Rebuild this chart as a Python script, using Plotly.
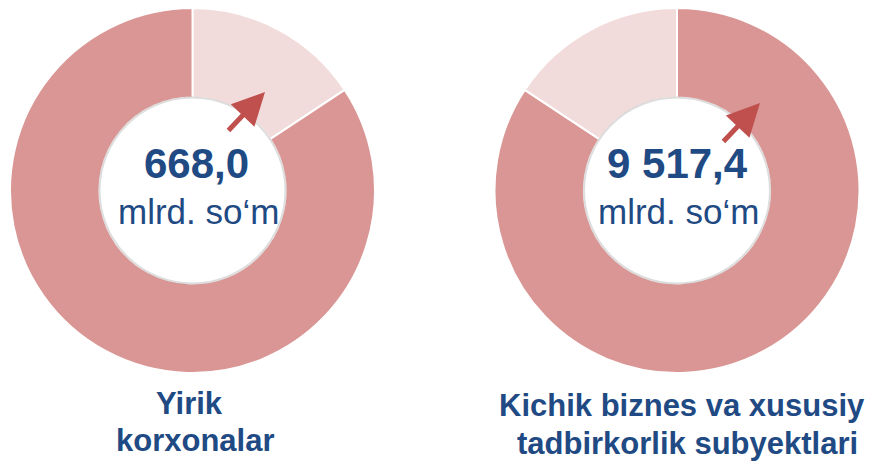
import plotly.graph_objects as go

# shares of the ring (decorative)
labels = ["light", "dark"]
left_values = [15.7, 84.3]
right_values = [84.3, 15.7]

center_values = ["668,0", "9 517,4"]
unit = "mlrd. so\u2018m"
title_lines = [["Yirik", "korxonalar"],
               ["Kichik biznes va xususiy", "tadbirkorlik subyektlari"]]

DARK = "#D99694"
LIGHT = "#F2DCDB"
BLUE = "#1F4A84"
W, H = 874, 464
OFF = 8  # page offset of the plot inside the window


def px(x):
    return (x - OFF) / W


def py(y):
    return 1 - (y - OFF) / H


fig = go.Figure()

fig.add_trace(go.Pie(
    labels=labels, values=left_values, hole=0.51, sort=False,
    direction="clockwise", rotation=0,
    marker=dict(colors=[LIGHT, DARK], line=dict(color="white", width=2)),
    textinfo="none", hoverinfo="skip",
    domain=dict(x=[px(10), px(375)], y=[py(373), py(8)]),
))
fig.add_trace(go.Pie(
    labels=labels, values=right_values, hole=0.51, sort=False,
    direction="clockwise", rotation=0,
    marker=dict(colors=[DARK, LIGHT], line=dict(color="white", width=2)),
    textinfo="none", hoverinfo="skip",
    domain=dict(x=[px(494), px(860)], y=[py(373), py(8)]),
))

# soft edge round the holes
for cx in [192.5, 677]:
    fig.add_shape(type="circle", xref="paper", yref="paper",
                  x0=px(cx - 93), x1=px(cx + 93), y0=py(190.5 + 93), y1=py(190.5 - 93),
                  line=dict(color="rgba(120,120,120,0.25)", width=2))

font = "Liberation Sans, Arial, sans-serif"
num_x = [196, 677.5]
unit_x = [198, 678]
line_x = [[189.5, 195.5], [681.5, 687]]
line_y = [[403, 440], [405, 443]]
for i in range(2):
    fig.add_annotation(x=px(num_x[i]), y=py(163), xref="paper", yref="paper",
                       xanchor="center", yanchor="middle",
                       text="<b>" + center_values[i] + "</b>", showarrow=False,
                       font=dict(family=font, size=42, color=BLUE))
    fig.add_annotation(x=px(unit_x[i]), y=py(211), xref="paper", yref="paper",
                       xanchor="center", yanchor="middle",
                       text=unit, showarrow=False,
                       font=dict(family=font, size=35, color=BLUE))
    for j in range(2):
        fig.add_annotation(x=px(line_x[i][j]), y=py(line_y[i][j]), xref="paper", yref="paper",
                           xanchor="center", yanchor="middle",
                           text="<b>" + title_lines[i][j] + "</b>", showarrow=False,
                           font=dict(family=font, size=31, color=BLUE))

# arrows pointing up-right
arrows = [(227, 132, 265, 92), (722, 143, 760, 103)]
for x0, y0, x1, y1 in arrows:
    fig.add_annotation(x=px(x1), y=py(y1), xref="paper", yref="paper",
                       ax=x0 - x1, ay=y0 - y1, axref="pixel", ayref="pixel",
                       text="", showarrow=True, arrowhead=2, arrowsize=1.3,
                       arrowwidth=5, arrowcolor="#C0504D")

fig.update_layout(
    width=W, height=H, margin=dict(l=0, r=0, t=0, b=0),
    paper_bgcolor="white", plot_bgcolor="white", showlegend=False,
)

fig.write_html("out.html")
